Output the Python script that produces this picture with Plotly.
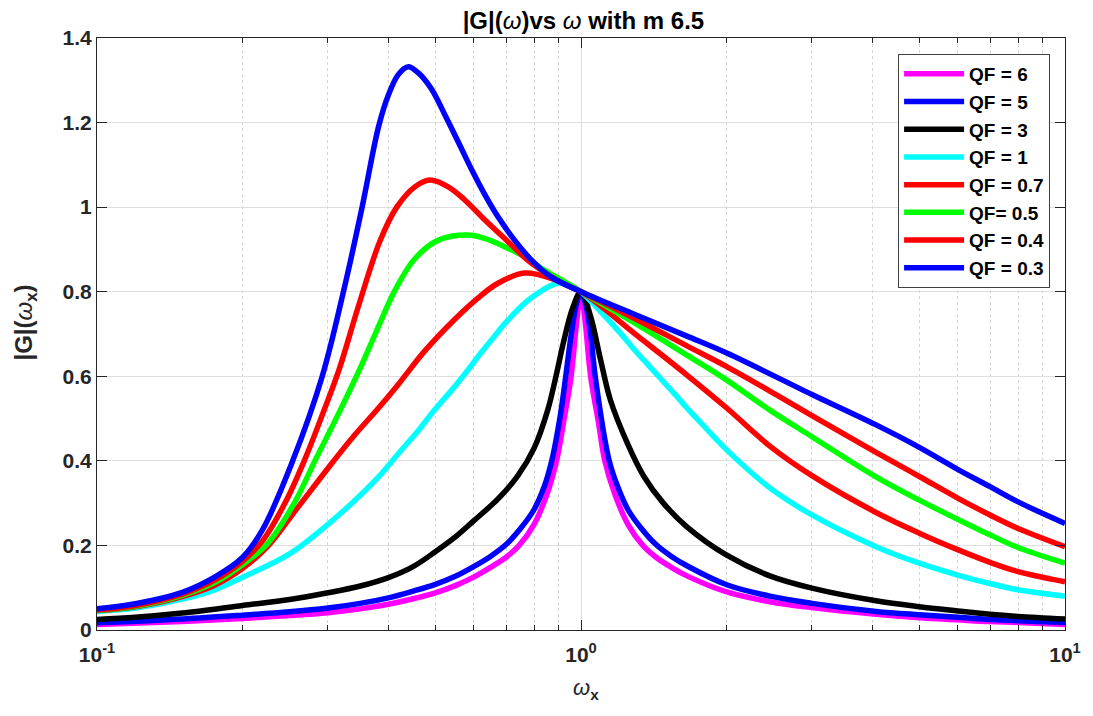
import plotly.graph_objects as go

# ---- data (x = omega_x, y = |G|) ----
qf6_x = [0.1, 0.15, 0.2, 0.25, 0.3, 0.35, 0.4, 0.45, 0.5, 0.55, 0.6, 0.65, 0.7, 0.745, 0.8, 0.85, 0.89, 0.92, 0.954, 0.978, 1.0,
         1.022, 1.047, 1.087, 1.12, 1.176, 1.25, 1.342, 1.4286, 1.538, 1.655, 2.0, 2.456, 3.0, 4.07, 5.0, 6.0, 7.0, 8.0, 10.0]
qf6_y = [0.013, 0.020, 0.027, 0.034, 0.041, 0.050, 0.061, 0.074, 0.088, 0.105, 0.125, 0.148, 0.172, 0.200, 0.250, 0.320, 0.400, 0.490, 0.600, 0.720, 0.800,
         0.720, 0.600, 0.490, 0.400, 0.320, 0.250, 0.200, 0.172, 0.148, 0.128, 0.090, 0.067, 0.053, 0.037, 0.029, 0.024, 0.020, 0.018, 0.013]

qf5_x = [0.1, 0.15, 0.2, 0.25, 0.3, 0.35, 0.4, 0.45, 0.5, 0.55, 0.6, 0.65, 0.7, 0.75, 0.8, 0.84, 0.87, 0.907, 0.93, 0.955, 0.978, 1.0,
         1.022, 1.047, 1.07, 1.1437, 1.19, 1.25, 1.333, 1.4286, 1.538, 1.655, 2.0, 2.456, 3.0, 4.07, 5.0, 6.0, 7.0, 8.0, 10.0]
qf5_y = [0.017, 0.026, 0.035, 0.043, 0.052, 0.063, 0.076, 0.092, 0.108, 0.127, 0.150, 0.174, 0.202, 0.240, 0.285, 0.340, 0.400, 0.510, 0.600, 0.700, 0.770, 0.800,
         0.770, 0.700, 0.600, 0.400, 0.340, 0.285, 0.240, 0.202, 0.174, 0.152, 0.107, 0.080, 0.063, 0.044, 0.036, 0.030, 0.025, 0.022, 0.018]

qf3_x = [0.1, 0.12, 0.15, 0.2, 0.25, 0.3, 0.35, 0.4, 0.45, 0.5, 0.55, 0.6, 0.6737, 0.7406, 0.8, 0.8535, 0.8877, 0.92, 0.96, 1.0,
         1.047, 1.098, 1.15, 1.2465, 1.349, 1.4797, 1.655, 2.0, 2.456, 3.0, 4.07, 5.0, 6.0, 7.0, 8.0, 10.0]
qf3_y = [0.025, 0.030, 0.040, 0.058, 0.072, 0.088, 0.104, 0.124, 0.150, 0.185, 0.220, 0.258, 0.310, 0.365, 0.430, 0.520, 0.600, 0.680, 0.760, 0.800,
         0.741, 0.638, 0.544, 0.442, 0.363, 0.300, 0.244, 0.177, 0.128, 0.099, 0.069, 0.055, 0.045, 0.037, 0.032, 0.026]

qf1_x = [0.1, 0.12, 0.15, 0.175, 0.2, 0.25, 0.3, 0.34, 0.3817, 0.42, 0.46, 0.498, 0.545, 0.584, 0.6209, 0.6737, 0.7, 0.7885, 0.8953, 0.95, 1.0,
         1.1, 1.2, 1.3, 1.349, 1.579, 1.655, 1.7357, 2.0, 2.456, 3.0, 4.07, 5.0, 6.0, 7.0, 8.0, 10.0]
qf1_y = [0.044, 0.052, 0.073, 0.095, 0.125, 0.180, 0.250, 0.305, 0.362, 0.418, 0.470, 0.520, 0.572, 0.615, 0.655, 0.705, 0.728, 0.785, 0.820, 0.815, 0.800,
         0.752, 0.705, 0.658, 0.638, 0.552, 0.525, 0.500, 0.426, 0.336, 0.272, 0.197, 0.158, 0.130, 0.110, 0.095, 0.080]

qf07_x = [0.1, 0.12, 0.15, 0.175, 0.2, 0.225, 0.26, 0.306, 0.34, 0.3817, 0.42, 0.4757, 0.5487, 0.6123, 0.6737, 0.7639, 0.8802, 1.0,
          1.3, 1.655, 2.0, 2.456, 3.0, 4.07, 5.0, 6.0, 7.0, 8.0, 10.0]
qf07_y = [0.046, 0.055, 0.079, 0.106, 0.146, 0.197, 0.290, 0.395, 0.460, 0.525, 0.582, 0.660, 0.735, 0.785, 0.820, 0.844, 0.829, 0.800,
          0.698, 0.603, 0.525, 0.435, 0.365, 0.278, 0.229, 0.190, 0.160, 0.138, 0.114]

qf05_x = [0.1, 0.12, 0.15, 0.175, 0.2, 0.2254, 0.255, 0.2834, 0.315, 0.35, 0.3757, 0.4134, 0.4536, 0.5075, 0.5846, 0.6324, 0.6965,
          0.7639, 0.8397, 0.9235, 1.0, 1.3, 1.655, 2.0, 2.456, 3.0, 4.07, 5.0, 6.0, 7.0, 8.0, 10.0]
qf05_y = [0.046, 0.056, 0.082, 0.112, 0.155, 0.205, 0.298, 0.405, 0.510, 0.620, 0.700, 0.805, 0.878, 0.922, 0.934, 0.926, 0.906,
          0.883, 0.851, 0.824, 0.800, 0.724, 0.650, 0.591, 0.520, 0.457, 0.362, 0.307, 0.262, 0.225, 0.195, 0.158]

qf04_x = [0.1, 0.12, 0.15, 0.175, 0.2, 0.2202, 0.245, 0.268, 0.2924, 0.3162, 0.3467, 0.3843, 0.4163, 0.4536, 0.4875, 0.5317, 0.5753,
          0.6324, 0.6965, 0.7885, 0.8953, 1.0, 1.3, 1.655, 2.0, 2.456, 3.0, 4.07, 5.0, 6.0, 7.0, 8.0, 10.0]
qf04_y = [0.047, 0.058, 0.085, 0.118, 0.163, 0.212, 0.302, 0.400, 0.510, 0.615, 0.765, 0.920, 1.000, 1.048, 1.064, 1.048, 1.017,
          0.970, 0.925, 0.868, 0.826, 0.800, 0.735, 0.672, 0.623, 0.565, 0.507, 0.420, 0.363, 0.312, 0.272, 0.240, 0.197]

qf03_x = [0.1, 0.12, 0.15, 0.175, 0.2, 0.22, 0.2537, 0.292, 0.323, 0.353, 0.3817, 0.40, 0.4196, 0.4397, 0.4606, 0.4906, 0.525, 0.56,
          0.5936, 0.6324, 0.6737, 0.7289, 0.7885, 0.8668, 1.0, 1.3, 1.655, 2.0, 3.0, 4.07, 5.0, 6.0, 7.0, 8.0, 10.0]
qf03_y = [0.050, 0.062, 0.089, 0.125, 0.172, 0.238, 0.400, 0.600, 0.800, 1.000, 1.190, 1.265, 1.314, 1.332, 1.318, 1.280, 1.215, 1.150,
          1.090, 1.030, 0.977, 0.922, 0.876, 0.835, 0.800, 0.745, 0.695, 0.655, 0.557, 0.485, 0.432, 0.380, 0.339, 0.303, 0.252]

series_names = ["QF = 6", "QF = 5", "QF = 3", "QF = 1", "QF = 0.7", "QF= 0.5", "QF = 0.4", "QF = 0.3"]
series_x = [qf6_x, qf5_x, qf3_x, qf1_x, qf07_x, qf05_x, qf04_x, qf03_x]
series_y = [qf6_y, qf5_y, qf3_y, qf1_y, qf07_y, qf05_y, qf04_y, qf03_y]
series_colors = ["#FF00FF", "#0000FF", "#000000", "#00FFFF", "#FF0000", "#00FF00", "#FF0000", "#0000FF"]

x_tick_vals = [0.1, 1, 10]
x_tick_text = ["10<sup>-1</sup>", "10<sup>0</sup>", "10<sup>1</sup>"]
x_minor_vals = [0.2, 0.3, 0.4, 0.5, 0.6, 0.7, 0.8, 0.9, 2, 3, 4, 5, 6, 7, 8, 9]
y_tick_vals = [0, 0.2, 0.4, 0.6, 0.8, 1.0, 1.2, 1.4]
y_tick_text = ["0", "0.2", "0.4", "0.6", "0.8", "1", "1.2", "1.4"]

FONT = "Liberation Sans, Arial, Helvetica, sans-serif"
AX = "#262626"
OMEGA = '<span style="font-weight:normal;font-style:italic">ω</span>'

fig = go.Figure()
for name, xs, ys, col in zip(series_names, series_x, series_y, series_colors):
    fig.add_trace(go.Scatter(x=xs, y=ys, mode="lines", name=name,
                             line=dict(color=col, width=5.5, shape="spline", smoothing=1.0)))

fig.update_layout(
    width=1093, height=716, autosize=False,
    margin=dict(l=97, r=23, t=38, b=86),
    paper_bgcolor="white", plot_bgcolor="white",
    font=dict(family=FONT, size=21, color=AX, weight="bold"),
    title=dict(text="|G|(" + OMEGA + ")vs " + OMEGA + " with m 6.5",
               x=0.5338, xanchor="center", y=0.9707, yanchor="middle", yref="container",
               font=dict(family=FONT, size=24, color="black", weight="bold")),
    showlegend=True,
    legend=dict(x=0.9846, xanchor="right", y=0.973, yanchor="top",
                bgcolor="white", bordercolor="#404040", borderwidth=1,
                font=dict(family=FONT, size=19, color="black", weight="bold"),
                itemwidth=60),
)

fig.update_xaxes(
    type="log", range=[-1, 1],
    tickmode="array", tickvals=x_tick_vals, ticktext=x_tick_text,
    ticks="inside", ticklen=10, tickcolor=AX, tickwidth=1,
    ticklabelstandoff=6,
    showgrid=True, gridcolor="#dedede", gridwidth=1,
    showline=True, linecolor=AX, linewidth=1, mirror="ticks",
    zeroline=False,
    minor=dict(tickmode="array", tickvals=x_minor_vals, ticks="inside", ticklen=5,
               tickcolor=AX, showgrid=True, gridcolor="#d6d6d6", griddash="dot", gridwidth=1),
    tickfont=dict(family=FONT, size=21, color=AX, weight="bold"),
)
fig.update_yaxes(
    range=[0, 1.4], tickmode="array", tickvals=y_tick_vals, ticktext=y_tick_text,
    ticks="inside", ticklen=10, tickcolor=AX, tickwidth=1,
    showgrid=True, gridcolor="#dedede", gridwidth=1,
    showline=True, linecolor=AX, linewidth=1, mirror="ticks",
    zeroline=False,
    tickfont=dict(family=FONT, size=21, color=AX, weight="bold"),
)

fig.add_annotation(text="|G|(" + OMEGA + "<sub>x</sub>)", xref="paper", yref="paper",
                   x=-0.074, y=0.52, xanchor="center", yanchor="middle", textangle=-90,
                   showarrow=False, font=dict(family=FONT, size=24, color=AX, weight="bold"))
fig.add_annotation(text=OMEGA + "<sub>x</sub>", xref="paper", yref="paper",
                   x=0.505, y=-0.10, xanchor="center", yanchor="middle",
                   showarrow=False, font=dict(family=FONT, size=22, color=AX, weight="bold"))

fig.write_html("out.html")
